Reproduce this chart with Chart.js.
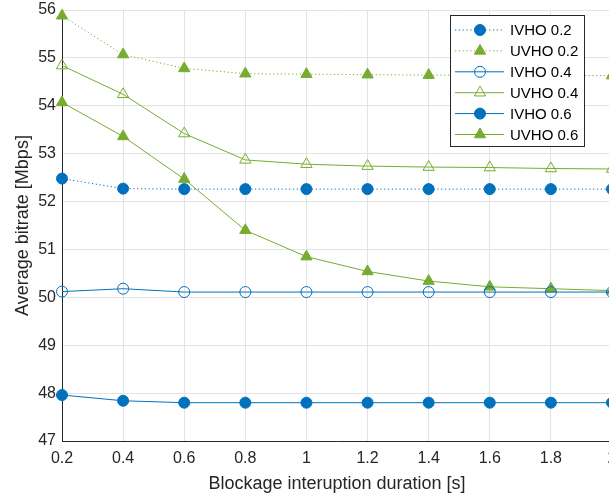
<!DOCTYPE html>
<html>
<head>
<meta charset="utf-8">
<script src="https://cdn.jsdelivr.net/npm/chart.js@4"></script>
<style>
  html, body { margin: 0; padding: 0; overflow: hidden; background: #fff; }
</style>
</head>
<body>
<canvas id="chart" width="640" height="499"></canvas>
<script>
// blockage duration [s] on x, bitrate [Mbps] on y
const durations = [0.2, 0.4, 0.6, 0.8, 1.0, 1.2, 1.4, 1.6, 1.8, 2.0];
const xTicks = [0.2, 0.4, 0.6, 0.8, 1, 1.2, 1.4, 1.6, 1.8, 2];
const yTicks = [47, 48, 49, 50, 51, 52, 53, 54, 55, 56];

const ivho02 = [52.48, 52.27, 52.26, 52.26, 52.26, 52.26, 52.26, 52.26, 52.26, 52.26];
const uvho02 = [55.88, 55.07, 54.78, 54.67, 54.66, 54.65, 54.64, 54.64, 54.63, 54.63];
const ivho04 = [50.12, 50.18, 50.11, 50.11, 50.11, 50.11, 50.11, 50.11, 50.11, 50.11];
const uvho04 = [54.84, 54.24, 53.42, 52.87, 52.78, 52.74, 52.72, 52.71, 52.69, 52.68];
const ivho06 = [47.96, 47.84, 47.80, 47.80, 47.80, 47.80, 47.80, 47.80, 47.80, 47.80];
const uvho06 = [54.07, 53.36, 52.47, 51.40, 50.85, 50.54, 50.34, 50.22, 50.18, 50.14];

const BLUE = '#0072BD';
const GREEN = '#77AC30';
const FONT = "'Liberation Sans', Arial, Helvetica, sans-serif";

function pts(vals){ return durations.map((d, i) => ({x: d, y: vals[i]})); }

function series(label, vals, color, style, filled, dotted){
    return {
        label: label,
        data: pts(vals),
        borderColor: color,
        borderWidth: 1,
        borderDash: dotted ? [1.2, 2.6] : [],
        pointStyle: style,
        pointRadius: style === 'triangle' ? 6.5 : 5.5,
        pointBorderWidth: 1,
        pointBorderColor: color,
        pointBackgroundColor: filled ? color : 'rgba(0,0,0,0)',
        pointHoverRadius: 6,
        tension: 0,
        clip: false
    };
}

// legend drawn MATLAB style: line sample with marker in the middle
const boxLegend = {
    id: 'boxLegend',
    afterDraw(chart){
        const ctx = chart.ctx;
        const x0 = 450, y0 = 15, w = 134, h = 131;
        ctx.save();
        ctx.fillStyle = '#fff';
        ctx.fillRect(x0, y0, w, h);
        ctx.strokeStyle = '#262626';
        ctx.lineWidth = 1;
        ctx.strokeRect(x0 + 0.5, y0 + 0.5, w, h);
        chart.data.datasets.forEach((ds, i) => {
            const cy = 30 + i * 20.9;
            ctx.beginPath();
            ctx.setLineDash(ds.borderDash);
            ctx.strokeStyle = ds.borderColor;
            ctx.lineWidth = ds.borderWidth;
            ctx.moveTo(455, cy);
            ctx.lineTo(504, cy);
            ctx.stroke();
            ctx.setLineDash([]);
            ctx.fillStyle = ds.pointBackgroundColor;
            ctx.strokeStyle = ds.pointBorderColor;
            ctx.lineWidth = ds.pointBorderWidth;
            Chart.helpers.drawPoint(ctx, {
                pointStyle: ds.pointStyle, radius: ds.pointRadius, rotation: 0, borderWidth: 1
            }, 480, cy);
            ctx.fillStyle = '#000';
            ctx.font = '15px ' + FONT;
            ctx.textBaseline = 'middle';
            ctx.fillText(ds.label, 510, cy + 1);
        });
        ctx.restore();
    }
};

new Chart(document.getElementById('chart'), {
    type: 'line',
    data: {
        datasets: [
            series('IVHO 0.2', ivho02, BLUE, 'circle', true, true),
            series('UVHO 0.2', uvho02, GREEN, 'triangle', true, true),
            series('IVHO 0.4', ivho04, BLUE, 'circle', false, false),
            series('UVHO 0.4', uvho04, GREEN, 'triangle', false, false),
            series('IVHO 0.6', ivho06, BLUE, 'circle', true, false),
            series('UVHO 0.6', uvho06, GREEN, 'triangle', true, false)
        ]
    },
    options: {
        responsive: false,
        animation: false,
        layout: { padding: { top: 0, right: 28, left: 0, bottom: 0 } },
        plugins: { legend: { display: false }, tooltip: { enabled: false } },
        scales: {
            x: {
                type: 'linear',
                min: 0.2,
                max: 2,
                afterBuildTicks: s => { s.ticks = xTicks.map(v => ({value: v})); },
                afterFit: s => { s.height = 58; },
                ticks: {
                    color: '#262626',
                    font: { family: FONT, size: 16 },
                    padding: 8,
                    maxRotation: 0,
                    callback: v => String(v)
                },
                grid: { color: '#e3e3e3', lineWidth: 1, drawTicks: false },
                border: { color: '#262626', width: 1 },
                title: {
                    display: true,
                    text: 'Blockage interuption duration [s]',
                    color: '#262626',
                    font: { family: FONT, size: 18 },
                    padding: { top: 2, bottom: 4 }
                }
            },
            y: {
                min: 47,
                max: 56,
                afterBuildTicks: s => { s.ticks = yTicks.map(v => ({value: v})); },
                afterFit: s => { s.width = 62; },
                ticks: {
                    color: '#262626',
                    font: { family: FONT, size: 16, lineHeight: 0.5 },
                    padding: 6
                },
                grid: { color: '#e3e3e3', lineWidth: 1, drawTicks: false },
                border: { color: '#262626', width: 1 },
                title: {
                    display: true,
                    text: 'Average bitrate [Mbps]',
                    color: '#262626',
                    font: { family: FONT, size: 18 },
                    padding: { top: 12, bottom: 4 }
                }
            }
        }
    },
    plugins: [boxLegend]
});
</script>
</body>
</html>
